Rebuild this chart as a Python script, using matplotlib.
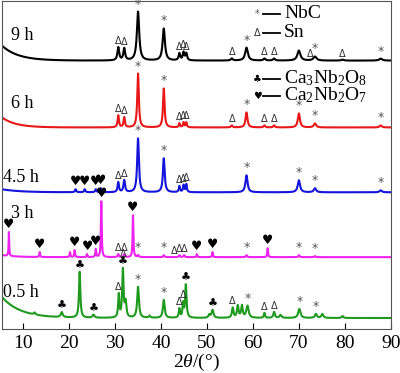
import numpy as np
import matplotlib
matplotlib.use("Agg")
import matplotlib.pyplot as plt

plt.rcParams['font.family'] = ['Liberation Serif', 'DejaVu Sans']
plt.rcParams['mathtext.fontset'] = 'custom'
plt.rcParams['mathtext.rm'] = 'Liberation Serif'
plt.rcParams['mathtext.it'] = 'Liberation Serif:italic'

# samples (bottom to top)
labels = ['0.5 h', '3 h', '4.5 h', '6 h', '9 h']
colors = ['#1f9a1f', '#ee22ee', '#1414dc', '#e81818', '#000000']
offsets = [11, 72, 137, 202, 269]
bg_amp = [21, 2, 3, 10, 15]
bg_tau = [4.0, 3.0, 4.0, 3.0, 3.5]

# peaks: position (2theta), height, fwhm
peaks_05 = [(12.5, 2, 0.4), (18.4, 5, 0.5), (22.3, 46, 0.35), (25.3, 3, 0.5),
            (30.8, 23, 0.3), (31.7, 48, 0.35), (32.3, 15, 0.4), (35.0, 31, 0.45),
            (37.5, 2, 0.4), (40.6, 18, 0.45), (44.0, 9, 0.3), (44.8, 14, 0.3),
            (45.4, 33, 0.35), (50.5, 3, 0.4), (51.2, 8, 0.5), (55.6, 10, 0.4),
            (56.7, 12, 0.4), (57.6, 12, 0.4), (58.8, 12, 0.6), (62.5, 5, 0.3),
            (64.6, 6, 0.4), (66.0, 3, 0.5), (70.1, 9, 0.6), (73.7, 4, 0.5),
            (75.1, 4, 0.5), (79.5, 2, 0.4)]
peaks_3 = [(6.9, 24, 0.15), (13.6, 5, 0.2), (20.2, 5, 0.2), (21.2, 7, 0.2),
           (23.9, 3, 0.2), (25.8, 8, 0.2), (27.0, 56, 0.2), (30.7, 3, 0.3),
           (32.0, 3, 0.3), (33.9, 42, 0.2), (35.0, 2, 0.3), (40.6, 2, 0.3),
           (44.0, 2, 0.3), (45.0, 2, 0.3), (47.8, 3, 0.2), (51.2, 5, 0.2),
           (58.6, 2, 0.3), (63.2, 9, 0.2), (70.0, 2, 0.3), (73.5, 1, 0.3)]
peaks_45 = [(21.4, 3, 0.3), (23.4, 3, 0.3), (25.8, 3, 0.3), (26.9, 4, 0.3),
            (30.7, 10, 0.35), (32.0, 12, 0.4), (35.0, 54, 0.45), (40.6, 34, 0.45),
            (44.0, 6, 0.3), (44.9, 7, 0.3), (45.5, 8, 0.3), (58.6, 17, 0.55),
            (70.0, 12, 0.6), (73.5, 4, 0.6), (87.8, 2, 0.6)]
peaks_6 = [(30.7, 12, 0.35), (32.0, 10, 0.35), (35.0, 54, 0.4), (40.6, 39, 0.4),
           (44.0, 4, 0.3), (44.9, 5, 0.3), (45.5, 5, 0.3), (55.4, 2, 0.4),
           (58.6, 15, 0.5), (62.5, 2, 0.4), (64.6, 2, 0.4), (70.0, 14, 0.55),
           (73.5, 4, 0.6), (87.8, 2, 0.6)]
peaks_9 = [(30.7, 13, 0.45), (32.0, 12, 0.45), (35.0, 49, 0.6), (40.6, 32, 0.6),
           (44.0, 7, 0.4), (44.9, 8, 0.4), (45.5, 7, 0.4), (55.4, 2, 0.5),
           (58.6, 13, 0.7), (62.5, 2, 0.5), (64.6, 2, 0.5), (70.0, 10, 0.8),
           (73.5, 4, 0.8), (79.5, 1, 0.6), (87.8, 2, 0.8)]
all_peaks = [peaks_05, peaks_3, peaks_45, peaks_6, peaks_9]

# phase markers: (2theta, symbol)
marks_05 = [(18.4, 'club'), (22.3, 'club'), (25.3, 'club'), (30.8, 'tri'),
            (31.7, 'club'), (31.7, 'tri'), (35.0, 'star'), (40.6, 'star'),
            (44.0, 'tri'), (44.8, 'tri'), (45.4, 'club'), (51.2, 'club'),
            (55.6, 'tri'), (58.8, 'star'), (62.5, 'tri'), (64.6, 'tri'),
            (70.1, 'star'), (73.7, 'star')]
marks_3 = [(6.9, 'heart'), (13.6, 'heart'), (21.2, 'heart'), (23.9, 'heart'),
           (25.8, 'heart'), (27.0, 'heart'), (30.7, 'tri'), (32.0, 'tri'),
           (33.9, 'heart'), (35.0, 'star'), (40.6, 'star'), (42.8, 'tri'),
           (44.0, 'tri'), (45.0, 'tri'), (47.8, 'heart'), (51.2, 'heart'),
           (58.6, 'star'), (63.2, 'heart'), (70.0, 'star'), (73.5, 'star')]
marks_45 = [(21.4, 'heart'), (23.4, 'heart'), (25.8, 'heart'), (26.9, 'heart'),
            (30.7, 'tri'), (32.0, 'tri'), (35.0, 'star'), (40.6, 'star'),
            (44.0, 'tri'), (44.9, 'tri'), (45.5, 'tri'), (58.6, 'star'),
            (70.0, 'star'), (73.5, 'star'), (87.8, 'star')]
marks_6 = [(30.7, 'tri'), (32.0, 'tri'), (35.0, 'star'), (40.6, 'star'),
           (44.0, 'tri'), (44.9, 'tri'), (45.5, 'tri'), (55.4, 'tri'),
           (58.6, 'star'), (62.5, 'tri'), (64.6, 'tri'), (70.0, 'star'),
           (73.5, 'star'), (87.8, 'star')]
marks_9 = [(30.7, 'tri'), (32.0, 'tri'), (35.0, 'star'), (40.6, 'star'),
           (44.0, 'tri'), (44.9, 'tri'), (45.5, 'tri'), (55.4, 'tri'),
           (58.6, 'star'), (62.5, 'tri'), (64.6, 'tri'), (72.5, 'tri'),
           (73.5, 'star'), (79.5, 'tri'), (87.8, 'star')]
all_marks = [marks_05, marks_3, marks_45, marks_6, marks_9]

symbols = {'star': ('*', '#555555', 9), 'tri': ('Δ', '#333333', 7),
           'club': ('♣', 'black', 8), 'heart': ('♥', 'black', 9)}

x = np.linspace(5.4, 90, 4000)


def pattern(peaks, off, amp, tau):
    y = off + amp * np.exp(-(x - 5.4) / tau)
    for p, h, w in peaks:
        g = (w / 2) ** 2
        y = y + h * g / ((x - p) ** 2 + g)
    return y


fig = plt.figure(figsize=(4.0, 3.73), dpi=100)
ax = fig.add_axes([0.005, 0.118, 0.972, 0.880])

for i in range(5):
    y = pattern(all_peaks[i], offsets[i], bg_amp[i], bg_tau[i])
    ax.plot(x, y, color=colors[i], lw=1.5)
    stack = {}
    for p, s in all_marks[i]:
        yy = np.interp(p, x, y)
        n = stack.get(p, 0)
        stack[p] = n + 1
        ch, c, fs = symbols[s]
        ax.text(p, yy + 1 + n * 8, ch, color=c, fontsize=fs, ha='center',
                va='bottom', family=['DejaVu Sans'], clip_on=False)

label_y = [37, 116, 152, 226, 294]
label_x = [5.6, 7.4, 5.6, 7.4, 7.4]
for i in range(5):
    ax.text(label_x[i], label_y[i], labels[i], fontsize=13, ha='left', va='center')

# legend
leg_items = [('*', 'NbC', 316, '#555555'), ('Δ', 'Sn', 297, '#333333'),
             ('♣', 'Ca$_3$Nb$_2$O$_8$', 251, 'black'), ('♥', 'Ca$_2$Nb$_2$O$_7$', 234, 'black')]
for ch, name, yy, c in leg_items:
    ax.text(61.0, yy, ch, color=c, fontsize=7, ha='center', va='center',
            family=['DejaVu Sans'])
    ax.plot([62.3, 65.8], [yy, yy], color='black', lw=1.3)
    ax.text(66.8, yy, name, fontsize=14, ha='left', va='center')

ax.set_xlim(5.4, 90)
ax.set_ylim(0, 329)
ax.set_xticks([10, 20, 30, 40, 50, 60, 70, 80, 90])
ax.set_yticks([])
ax.tick_params(axis='x', direction='in', length=4, labelsize=14, pad=4)
for sp in ax.spines.values():
    sp.set_color('#555555')
ax.set_xlabel('2$\\it{θ}$/(°)', fontsize=14, labelpad=0)

fig.savefig('out.png', dpi=100)
